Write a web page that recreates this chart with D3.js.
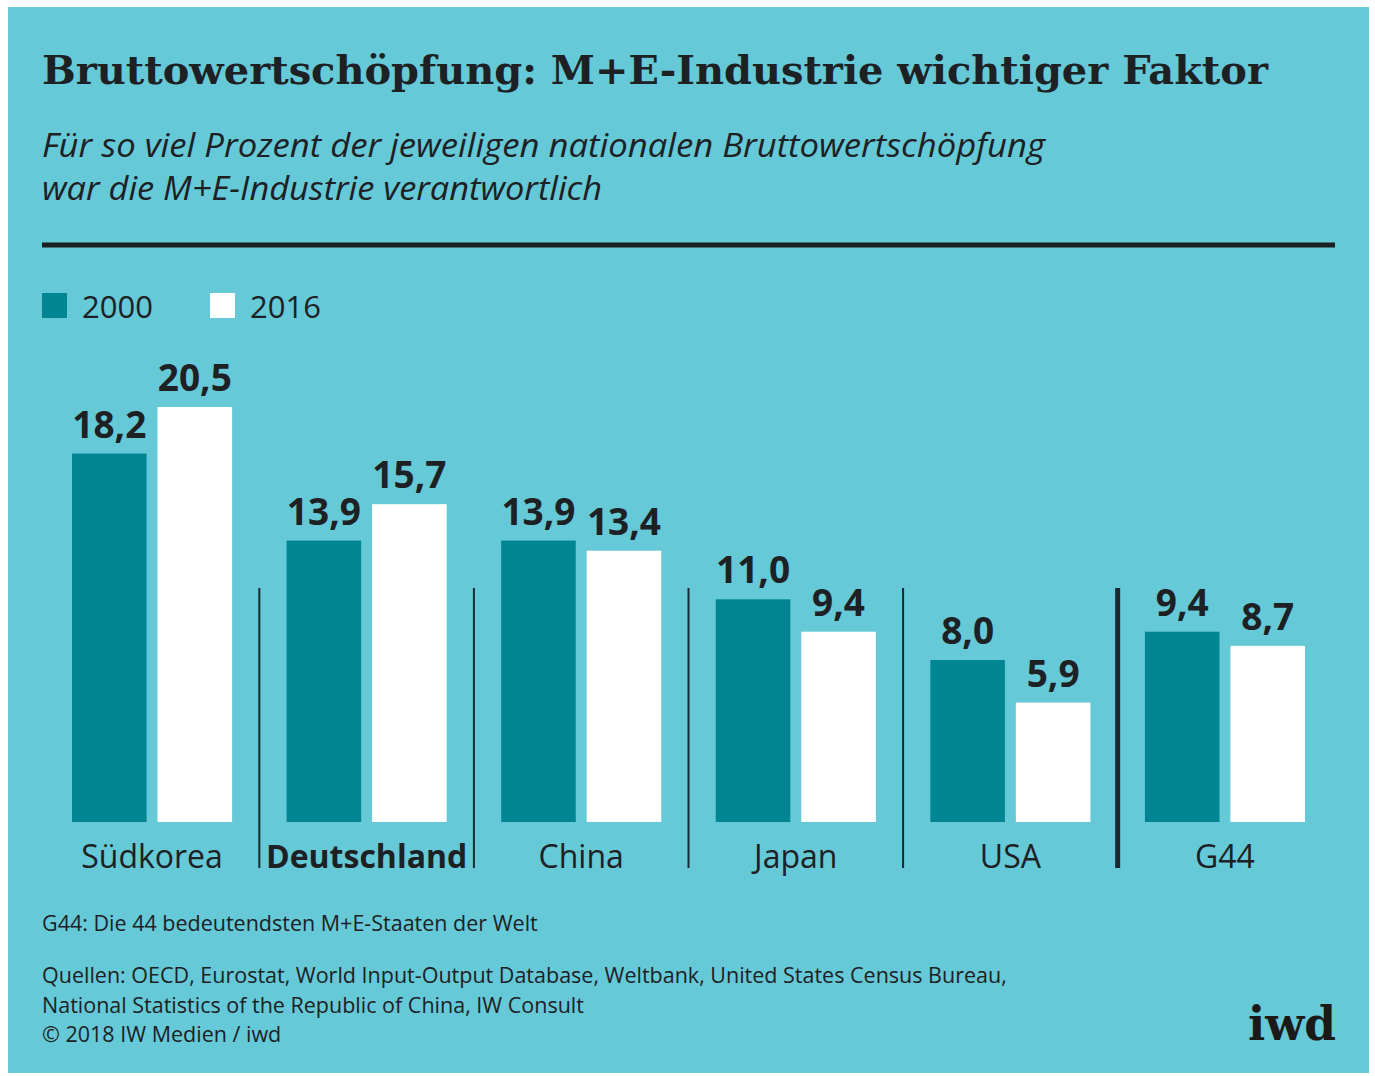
<!DOCTYPE html>
<html>
<head>
<meta charset="utf-8">
<script src="https://cdnjs.cloudflare.com/ajax/libs/d3/7.8.5/d3.min.js"></script>
<style>
  body { margin: 0; background: #fff; }
  svg { display: block; }
</style>
</head>
<body>
<div id="chart"></div>
<script>
// Daten
const categories = ["Südkorea", "Deutschland", "China", "Japan", "USA", "G44"];
const years = ["2000", "2016"];
const values2000 = [18.2, 13.9, 13.9, 11.0, 8.0, 9.4];
const values2016 = [20.5, 15.7, 13.4, 9.4, 5.9, 8.7];
const footnotes = [
  "G44: Die 44 bedeutendsten M+E-Staaten der Welt"
];
const sources = [
  "Quellen: OECD, Eurostat, World Input-Output Database, Weltbank, United States Census Bureau,",
  "National Statistics of the Republic of China, IW Consult",
  "© 2018 IW Medien / iwd"
];

const width = 1375, height = 1076;
const bg = "#66c9d7", teal = "#008693", ink = "#1d2124";
const sans = "'Open Sans', 'Noto Sans', sans-serif";
const serif = "'DejaVu Serif', 'Liberation Serif', serif";

const svg = d3.select("#chart").append("svg")
  .attr("width", width)
  .attr("height", height);

// Hintergrund
svg.append("rect")
  .attr("x", 8).attr("y", 7)
  .attr("width", 1361).attr("height", 1066)
  .attr("fill", bg);

// Titel
svg.append("text")
  .attr("x", 42).attr("y", 84)
  .attr("font-family", serif)
  .attr("font-weight", "bold")
  .attr("font-size", 40)
  .attr("fill", ink)
  .attr("textLength", 1226)
  .attr("lengthAdjust", "spacingAndGlyphs")
  .text("Bruttowertschöpfung: M+E-Industrie wichtiger Faktor");

// Untertitel
const sub = ["Für so viel Prozent der jeweiligen nationalen Bruttowertschöpfung",
             "war die M+E-Industrie verantwortlich"];
const subLen = [1003, 560];
svg.append("g").selectAll("text")
  .data(sub)
  .join("text")
  .attr("x", 42)
  .attr("y", (d, i) => 157 + i * 43)
  .attr("font-family", sans)
  .attr("font-style", "italic")
  .attr("font-size", 32)
  .attr("fill", ink)
  .attr("textLength", (d, i) => subLen[i])
  .attr("lengthAdjust", "spacingAndGlyphs")
  .text(d => d);

// Linie
svg.append("line")
  .attr("x1", 42).attr("x2", 1335)
  .attr("y1", 245).attr("y2", 245)
  .attr("stroke", "#1b1f21")
  .attr("stroke-width", 5);

// Legende
const color = d3.scaleOrdinal().domain(years).range([teal, "#ffffff"]);
const legend = svg.append("g").selectAll("g")
  .data(years)
  .join("g")
  .attr("transform", (d, i) => `translate(${42 + i * 168},293)`);
legend.append("rect")
  .attr("width", 25).attr("height", 25)
  .attr("fill", d => color(d));
legend.append("text")
  .attr("x", 40).attr("y", 25)
  .attr("font-family", sans)
  .attr("font-size", 31)
  .attr("fill", ink)
  .text(d => d);

// Skalen
const x = d3.scaleBand()
  .domain(categories)
  .range([72, 1305])
  .paddingInner(0.254)
  .paddingOuter(0);

const xSub = d3.scaleBand()
  .domain(years)
  .range([0, x.bandwidth()])
  .paddingInner(0.128);

const y = d3.scaleLinear()
  .domain([0, 20.5])
  .range([822, 407]);

const rows = categories.map((c, i) => ({
  cat: c,
  vals: [{ year: "2000", v: values2000[i] }, { year: "2016", v: values2016[i] }]
}));

// Trennlinien
const gap = x.step() - x.bandwidth();
svg.append("g").selectAll("line")
  .data(categories.slice(1))
  .join("line")
  .attr("x1", d => x(d) - gap / 2)
  .attr("x2", d => x(d) - gap / 2)
  .attr("y1", 588).attr("y2", 868)
  .attr("stroke", "#1b2a30")
  .attr("stroke-width", d => d === "G44" ? 5 : 2);

// Balken
const groups = svg.append("g").selectAll("g")
  .data(rows)
  .join("g")
  .attr("transform", d => `translate(${x(d.cat)},0)`);

groups.selectAll("rect")
  .data(d => d.vals)
  .join("rect")
  .attr("x", d => xSub(d.year))
  .attr("y", d => y(d.v))
  .attr("width", xSub.bandwidth())
  .attr("height", d => y(0) - y(d.v))
  .attr("fill", d => color(d.year));

// Werte
const fmt = v => v.toFixed(1).replace(".", ",");
groups.selectAll("text.val")
  .data(d => d.vals)
  .join("text")
  .attr("class", "val")
  .attr("x", d => xSub(d.year) + xSub.bandwidth() / 2)
  .attr("y", d => y(d.v) - 16)
  .attr("text-anchor", "middle")
  .attr("font-family", sans)
  .attr("font-weight", "bold")
  .attr("font-size", 37)
  .attr("fill", ink)
  .text(d => fmt(d.v));

// Kategorien
groups.append("text")
  .attr("x", x.bandwidth() / 2)
  .attr("y", 868)
  .attr("text-anchor", "middle")
  .attr("font-family", sans)
  .attr("font-weight", d => d.cat === "Deutschland" ? "bold" : "normal")
  .attr("font-size", 32)
  .attr("fill", ink)
  .text(d => d.cat);

// Fußnoten
svg.append("g").selectAll("text")
  .data(footnotes)
  .join("text")
  .attr("x", 42).attr("y", 931)
  .attr("font-family", sans)
  .attr("font-size", 21.5)
  .attr("fill", ink)
  .text(d => d);

svg.append("g").selectAll("text")
  .data(sources)
  .join("text")
  .attr("x", 42)
  .attr("y", (d, i) => 983 + i * 29.5)
  .attr("font-family", sans)
  .attr("font-size", 21.5)
  .attr("fill", ink)
  .text(d => d);

// Logo
svg.append("text")
  .attr("x", 1336).attr("y", 1040)
  .attr("text-anchor", "end")
  .attr("font-family", serif)
  .attr("font-weight", "bold")
  .attr("font-size", 46)
  .attr("fill", "#1b1a18")
  .attr("textLength", 88)
  .attr("lengthAdjust", "spacingAndGlyphs")
  .text("iwd");
</script>
</body>
</html>
